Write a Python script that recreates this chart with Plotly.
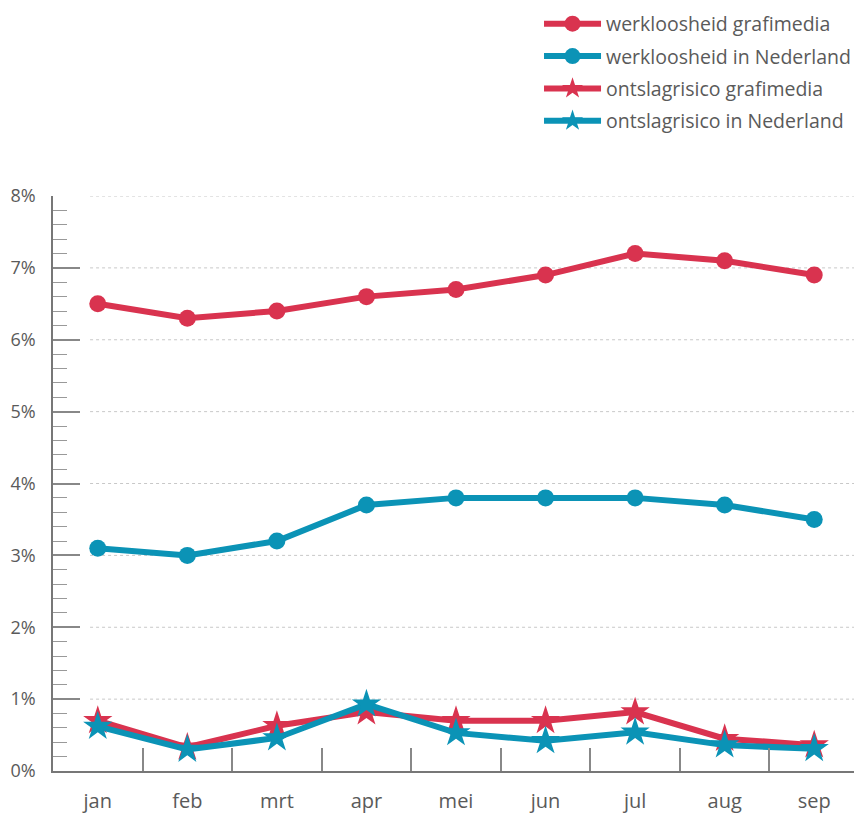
import plotly.graph_objects as go

months = ["jan", "feb", "mrt", "apr", "mei", "jun", "jul", "aug", "sep"]
werkloosheid_grafimedia = [6.5, 6.3, 6.4, 6.6, 6.7, 6.9, 7.2, 7.1, 6.9]
werkloosheid_nederland = [3.1, 3.0, 3.2, 3.7, 3.8, 3.8, 3.8, 3.7, 3.5]
ontslag_grafimedia = [0.7, 0.33, 0.63, 0.82, 0.7, 0.7, 0.82, 0.45, 0.36]
ontslag_nederland = [0.62, 0.3, 0.46, 0.93, 0.53, 0.42, 0.54, 0.36, 0.31]
y_ticks = [0, 1, 2, 3, 4, 5, 6, 7, 8]
y_tick_labels = [f"{v}%" for v in y_ticks]

RED = "#d9334f"
BLUE = "#0b93b6"
GREY = "#5a5a5a"
FONT = "Open Sans"

fig = go.Figure()

series = [
    ("werkloosheid grafimedia", werkloosheid_grafimedia, RED, "circle", 17),
    ("werkloosheid in Nederland", werkloosheid_nederland, BLUE, "circle", 17),
    ("ontslagrisico grafimedia", ontslag_grafimedia, RED, "star", 22),
    ("ontslagrisico in Nederland", ontslag_nederland, BLUE, "star", 22),
]
for i, (name, vals, col, sym, size) in enumerate(series):
    fig.add_trace(go.Scatter(
        x=months, y=vals, name=name, mode="lines+markers",
        line=dict(color=col, width=6),
        marker=dict(symbol=sym, size=size, color=col, line=dict(width=0)),
        legendgroup=f"g{i}",
    ))

# dotted gridlines (start a bit right of the axis)
for v in y_ticks[1:]:
    fig.add_shape(type="line", xref="paper", yref="y", x0=0.046, x1=1.0,
                  y0=v, y1=v, line=dict(color="#c8c8c8", width=1, dash="dot"),
                  layer="below")

fig.update_layout(
    width=854, height=806,
    margin=dict(l=45, r=3, t=188, b=43, autoexpand=False),
    paper_bgcolor="white", plot_bgcolor="white",
    font=dict(family=FONT, color=GREY),
    showlegend=True,
    legend=dict(
        x=0.603, y=1.333, xanchor="left", yanchor="top",
        font=dict(size=19.5, color=GREY, family=FONT),
        traceorder="grouped", tracegroupgap=4,
        bgcolor="rgba(0,0,0,0)", itemwidth=57,
    ),
    xaxis=dict(
        type="category", range=[-0.5, 8.5], automargin=False,
        showgrid=False, zeroline=False,
        showline=True, linecolor="#777777", linewidth=1.5,
        ticks="inside", tickson="boundaries", ticklen=23,
        tickcolor="#888888", tickwidth=1.5,
        tickfont=dict(size=20, color=GREY, family=FONT),
        ticklabelstandoff=11,
    ),
    yaxis=dict(
        range=[0, 8], tickvals=y_ticks, ticktext=y_tick_labels,
        automargin=False,
        showgrid=False, zeroline=False,
        showline=True, linecolor="#777777", linewidth=1.5,
        ticks="inside", ticklen=27, tickcolor="#888888", tickwidth=1.5,
        tickfont=dict(size=18, color=GREY, family=FONT),
        ticklabelstandoff=12,
        minor=dict(dtick=0.2, ticks="inside", ticklen=14,
                   tickcolor="#999999", tickwidth=1.2, showgrid=False),
    ),
)

fig.write_html("out.html")
